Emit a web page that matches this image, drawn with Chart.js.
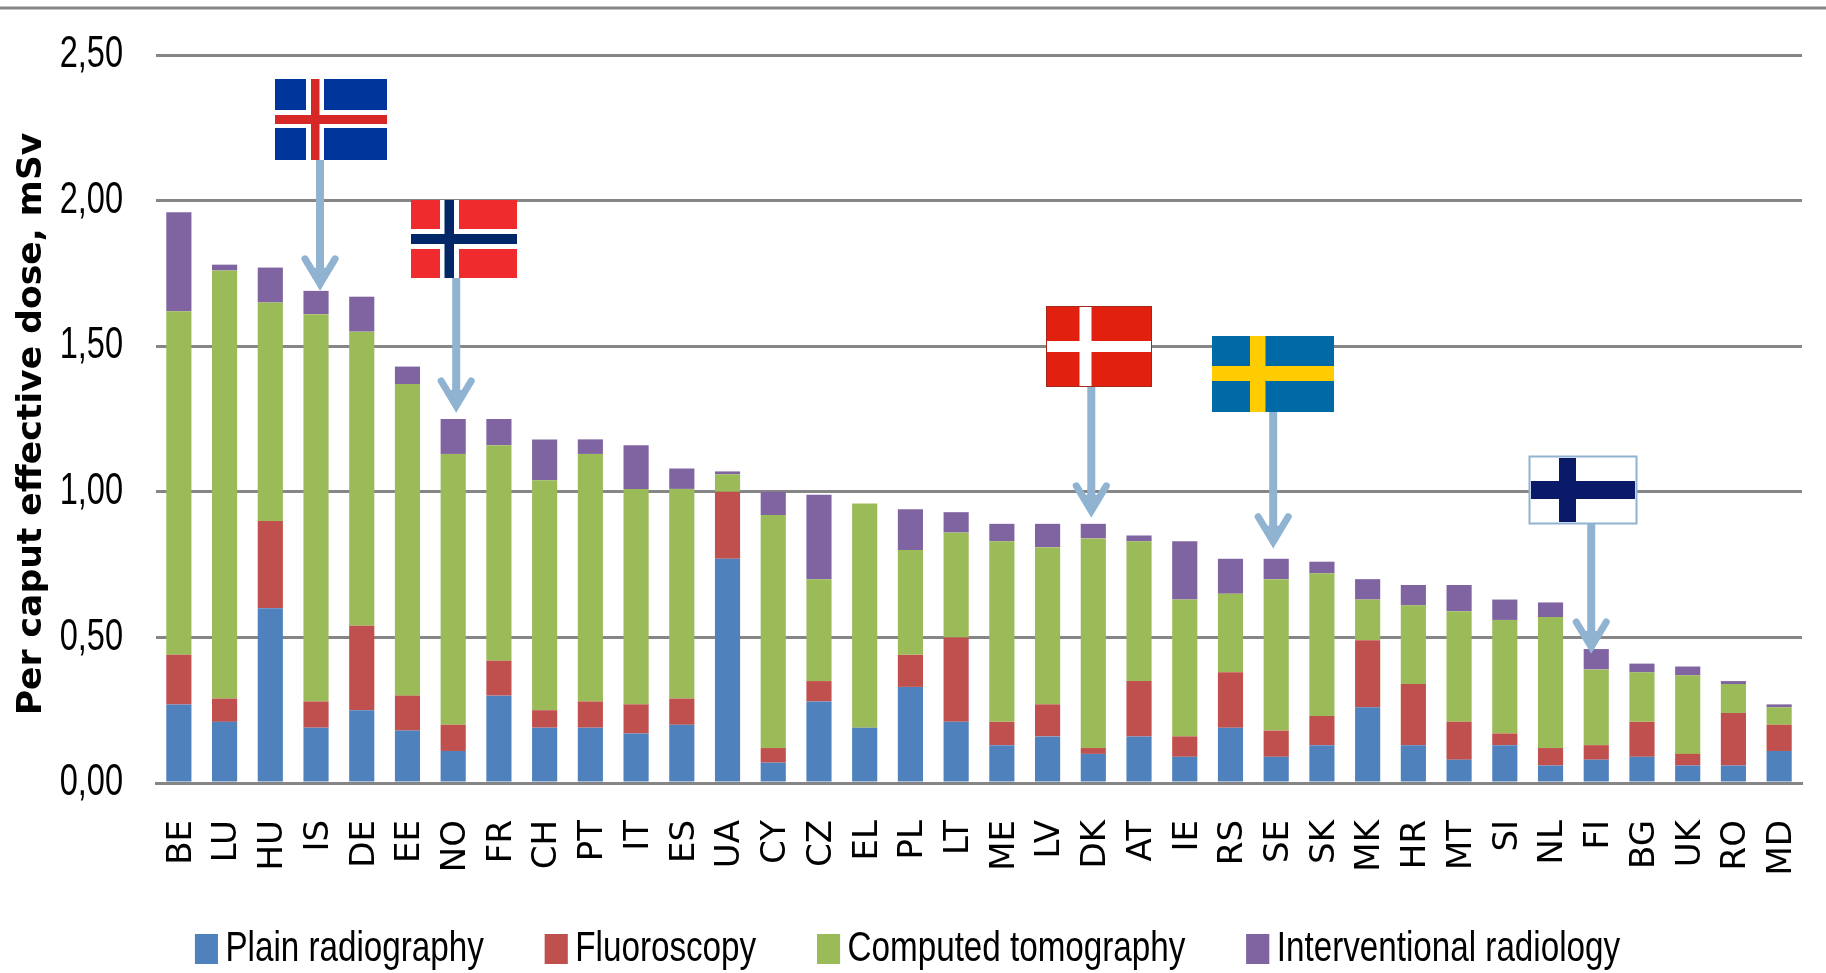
<!DOCTYPE html>
<html><head><meta charset="utf-8">
<style>html,body{margin:0;padding:0;background:#fff}canvas{display:block}</style>
<script src="https://cdn.jsdelivr.net/npm/chart.js@4"></script>
</head><body>
<canvas id="c" width="1826" height="973"></canvas>
<script>
const categories = ['BE','LU','HU','IS','DE','EE','NO','FR','CH','PT','IT','ES','UA','CY','CZ','EL','PL','LT','ME','LV','DK','AT','IE','RS','SE','SK','MK','HR','MT','SI','NL','FI','BG','UK','RO','MD'];
const plainRadiography = [.27,.21,.60,.19,.25,.18,.11,.30,.19,.19,.17,.20,.77,.07,.28,.19,.33,.21,.13,.16,.10,.16,.09,.19,.09,.13,.26,.13,.08,.13,.06,.08,.09,.06,.06,.11];
const fluoroscopy = [.17,.08,.30,.09,.29,.12,.09,.12,.06,.09,.10,.09,.23,.05,.07,0,.11,.29,.08,.11,.02,.19,.07,.19,.09,.10,.23,.21,.13,.04,.06,.05,.12,.04,.18,.09];
const computedTomography = [1.18,1.47,.75,1.33,1.01,1.07,.93,.74,.79,.85,.74,.72,.06,.80,.35,.77,.36,.36,.62,.54,.72,.48,.47,.27,.52,.49,.14,.27,.38,.39,.45,.26,.17,.27,.10,.06];
const interventionalRadiology = [.34,.02,.12,.08,.12,.06,.12,.09,.14,.05,.15,.07,.01,.08,.29,0,.14,.07,.06,.08,.05,.02,.20,.12,.07,.04,.07,.07,.09,.07,.05,.07,.03,.03,.01,.01];
const yTicks = [0,.5,1,1.5,2,2.5];
const yTitle = 'Per caput effective dose, mSv';

const GREY = '#868686', ARROW = '#8fb3d1';
const NARROW = "'Liberation Sans',sans-serif";

// Flag call-outs: category they point to, box and cross geometry
const callouts = [
  {code:'IS', dx:4,  gap:1,  top:79,  w:112, h:81, base:'#00369b', outerC:'#ffffff', innerC:'#d72828', v:[306,324,311,319.5], hz:[110,128,115,124], x0:275},
  {code:'NO', dx:3,  gap:7,  top:200, w:106, h:78, base:'#ef2b2d', outerC:'#ffffff', innerC:'#002868', v:[440,459,444.5,454], hz:[229,249,234,244], x0:411},
  {code:'DK', dx:-2, gap:7,  top:306, w:106, h:81, base:'#e1200f', outerC:'#ffffff', innerC:null, v:[1079.5,1091.5], hz:[341,352], x0:1046, edge:'#a5281e'},
  {code:'SE', dx:-3, gap:11, top:336, w:122, h:76, base:'#006aa7', outerC:'#fecc00', innerC:null, v:[1250,1265.5], hz:[366,381], x0:1212},
  {code:'FI', dx:-5, gap:-4, top:456, w:108, h:68, base:'#ffffff', outerC:'#0a1968', innerC:null, v:[1559,1576], hz:[481,499], x0:1529, edge:ARROW, edgeW:2}
];

// The reference text is a condensed face: squeeze Liberation Sans horizontally
const canvas = document.getElementById('c');
const rawCtx = canvas.getContext('2d');
const squeeze = f => !f.includes('Liberation Sans') ? 1 : (f.includes('44px') ? .74 : .772);
const origFill = rawCtx.fillText.bind(rawCtx), origMeasure = rawCtx.measureText.bind(rawCtx);
rawCtx.fillText = function(t,x,y,mw){
  const k = squeeze(rawCtx.font);
  if(t===yTitle) x-=5;
  if(k===1) return mw===undefined?origFill(t,x,y):origFill(t,x,y,mw);
  origFill(t,x,y,origMeasure(t).width*k);
};
rawCtx.measureText = function(t){
  const k = squeeze(rawCtx.font);
  if(k===1) return origMeasure(t);
  return {width:origMeasure(t).width*k};
};

const overlay = {
  id:'overlay',
  afterDraw(chart){
    const {ctx, scales:{x,y}} = chart;
    ctx.save();
    ctx.fillStyle = GREY; ctx.fillRect(0,6.5,chart.width,3);
    chart.legend.legendItems.forEach((it,i)=>{
      const hb = chart.legend.legendHitBoxes[i];
      ctx.fillStyle = it.fillStyle;
      ctx.fillRect(hb.left, hb.top + hb.height/2 - 15, 23, 30);
    });
    callouts.forEach(c=>{
      const i = categories.indexOf(c.code);
      const total = plainRadiography[i]+fluoroscopy[i]+computedTomography[i]+interventionalRadiology[i];
      const ax = x.getPixelForValue(i)+c.dx;
      const tip = y.getPixelForValue(total)-c.gap;
      const fb = c.top+c.h;
      ctx.strokeStyle = ARROW; ctx.fillStyle = ARROW; ctx.lineCap='butt';
      ctx.lineWidth = 8;
      ctx.beginPath(); ctx.moveTo(ax,fb); ctx.lineTo(ax,tip-10); ctx.stroke();
      ctx.lineCap='round'; ctx.lineWidth=7;
      ctx.beginPath(); ctx.moveTo(ax-15,tip-31); ctx.lineTo(ax,tip-6); ctx.lineTo(ax+15,tip-31); ctx.stroke();
      ctx.beginPath(); ctx.moveTo(ax-9,tip-22); ctx.lineTo(ax,tip); ctx.lineTo(ax+9,tip-22); ctx.closePath(); ctx.fill();
      const x0=c.x0, t=c.top, w=c.w, h=c.h, e=c.edgeW||0;
      ctx.fillStyle=c.base; ctx.fillRect(x0,t,w,h);
      ctx.fillStyle=c.outerC;
      ctx.fillRect(c.v[0],t+e,c.v[1]-c.v[0],h-2*e);
      ctx.fillRect(x0+e,c.hz[0],w-2*e,c.hz[1]-c.hz[0]);
      if(c.innerC){
        ctx.fillStyle=c.innerC;
        ctx.fillRect(c.v[2],t,c.v[3]-c.v[2],h);
        ctx.fillRect(x0,c.hz[2],w,c.hz[3]-c.hz[2]);
      }
      if(c.edge){ctx.strokeStyle=c.edge;ctx.lineWidth=c.edgeW||1;ctx.strokeRect(x0+.5,t+.5,w-1,h-1);}
    });
    ctx.restore();
  }
};

new Chart(canvas,{
  type:'bar',
  data:{labels:categories,datasets:[
    {label:'Plain radiography',data:plainRadiography,backgroundColor:'#4f81bd'},
    {label:'Fluoroscopy',data:fluoroscopy,backgroundColor:'#c0504d'},
    {label:'Computed tomography',data:computedTomography,backgroundColor:'#9bbb59'},
    {label:'Interventional radiology',data:interventionalRadiology,backgroundColor:'#8064a2'}
  ]},
  plugins:[overlay,{id:'white',beforeDraw(ch){ch.ctx.fillStyle='#fff';ch.ctx.fillRect(0,0,ch.width,ch.height);}}],
  options:{
    responsive:false,animation:false,
    datasets:{bar:{barPercentage:.55,categoryPercentage:1,borderWidth:0}},
    layout:{padding:{left:13,right:24,top:55,bottom:-7.5}},
    plugins:{tooltip:{enabled:false},
      legend:{position:'bottom',labels:{boxWidth:9,boxHeight:30,padding:61,color:'#000',font:{family:NARROW,size:43}}}},
    scales:{
      x:{stacked:true,grid:{display:false},border:{color:GREY,width:3},
        afterFit(s){s.height=83.5;s.paddingLeft=0;s.paddingRight=0;s._computeLabelArea=()=>undefined;},
        ticks:{autoSkip:false,minRotation:90,maxRotation:90,padding:29,labelOffset:3,color:'#000',font:{family:"'DejaVu Sans'",size:34}}},
      y:{stacked:true,min:0,max:2.5,
        afterBuildTicks(s){s.ticks=yTicks.map(v=>({value:v}));},
        afterFit(s){s.width=143;s.paddingTop=0;s.paddingBottom=0;},
        grid:{color:GREY,lineWidth:3,drawTicks:false},border:{display:false},
        title:{display:true,text:yTitle,color:'#000',padding:{top:-2,bottom:0},font:{family:"'DejaVu Sans'",weight:'bold',size:34.6}},
        ticks:{padding:33,color:'#000',font:{family:NARROW,size:44},callback:v=>v.toFixed(2).replace('.',',')}}
    }
  }
});
</script>
</body></html>
